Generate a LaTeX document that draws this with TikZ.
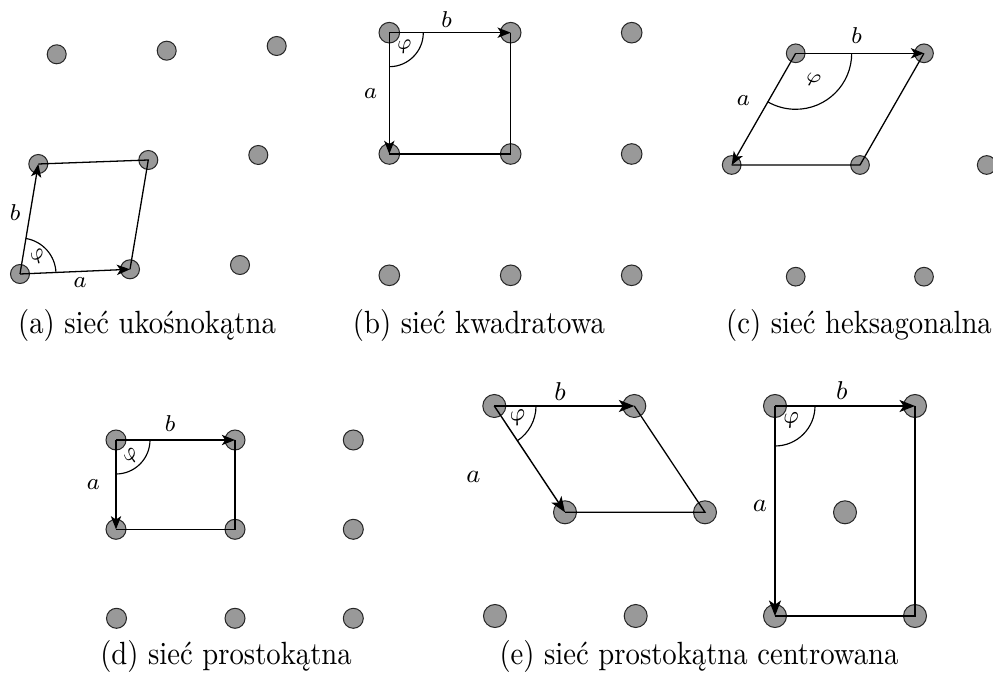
\documentclass[tikz,border=0pt]{standalone}
\usepackage{fontspec}
\usetikzlibrary{arrows.meta}
\definecolor{dotgray}{RGB}{153,153,153}
\tikzset{
  latt/.style={circle, draw=black!85, line width=0.35pt, fill=dotgray, inner sep=0pt, minimum size={#1*0.3486pt}},
  vec/.style={line width=0.45pt, -{Stealth[length=4.6pt,width=3.6pt,inset=1.2pt]}},
  bigvec/.style={line width=0.5pt, -{Stealth[length=5.4pt,width=4.2pt,inset=1.4pt]}},
  cellline/.style={line width=0.45pt},
  anglearc/.style={line width=0.4pt},
  lbl/.style={inner sep=0pt, font=\fontsize{8.5}{10}\selectfont},
  elbl/.style={inner sep=0pt, font=\fontsize{9.5}{11}\selectfont},
  philbl/.style={inner sep=0pt, font=\fontsize{7}{8}\selectfont},
  capt/.style={inner sep=0pt, yscale=1.12, font=\fontsize{10}{12}\selectfont}
}
\begin{document}
\begin{tikzpicture}[x=0.3486pt, y=-0.3486pt]
\useasboundingbox (0,0) rectangle (993,677);

% ---------- (a) ----------
\foreach \n/\x/\y in {a00/20/274, a10/130/269.3, a20/240/265,
                      a01/38.3/164, a11/148.3/160, a21/258.3/155,
                      a02/56.7/54.3, a12/166.7/50.7, a22/276.7/46}
  \node[latt=19] (\n) at (\x,\y) {};
\draw[vec] (a00.center) -- (a10.center);
\draw[vec] (a00.center) -- (a01.center);
\draw[cellline] (a01.center) -- (a11.center) -- (a10.center);
\draw[anglearc] (a00.center) ++(-2.4:36) arc[start angle=-2.4, end angle=-80.6, radius=36];
\node[lbl] (la) at (80,283) {$a$};
\node[lbl] (lb) at (15,213) {$b$};
\node[philbl, rotate=30] (lp) at (38.3,257) {$\varphi$};
\node[capt] (capa) at (147,325) {(a) sieć ukośnokątna};

% ---------- (b) ----------
\foreach \n/\x/\y in {b00/389.3/32.7, b10/510.7/32.7, b20/631.7/32.7,
                      b01/389.3/154, b11/510.7/154, b21/631.7/154,
                      b02/389.3/275.3, b12/510.7/275.3, b22/631.7/275.3}
  \node[latt=20.6] (\n) at (\x,\y) {};
\draw[vec] (b00.center) -- (b10.center);
\draw[vec] (b00.center) -- (b01.center);
\draw[cellline] (b10.center) -- (b11.center) -- (b01.center);
\draw[anglearc] (b00.center) ++(0:34) arc[start angle=0, end angle=90, radius=34];
\node[lbl] (lbb) at (446.7,19.3) {$b$};
\node[lbl] (lba) at (370.7,93.3) {$a$};
\node[philbl, rotate=10] (lbp) at (405,46.7) {$\varphi$};
\node[capt] (capb) at (479,325) {(b) sieć kwadratowa};

% ---------- (c) ----------
\foreach \n/\x/\y in {c00/795.7/53.3, c10/924/53.3,
                      c01/731.7/165, c11/860/165, c21/986.7/165,
                      c02/795.7/276.7, c12/924/276.7}
  \node[latt=18.7] (\n) at (\x,\y) {};
\draw[vec] (c00.center) -- (c10.center);
\draw[vec] (c00.center) -- (c01.center);
\draw[cellline] (c10.center) -- (c11.center) -- (c01.center);
\draw[anglearc] (c00.center) ++(0:56) arc[start angle=0, end angle=120, radius=56];
\node[lbl] (lcb) at (856.7,36) {$b$};
\node[lbl] (lca) at (743.3,100.7) {$a$};
\node[philbl, rotate=-15] (lcp) at (813.3,80) {$\varphi$};
\node[capt] (capc) at (859,325) {(c) sieć heksagonalna};

% ---------- (d) ----------
\foreach \n/\x/\y in {d00/116/440, d10/235/440, d20/353.3/440,
                      d01/116/529.3, d11/235/529.3, d21/353.3/529.3,
                      d02/116.5/618.3, d12/235/618.3, d22/353.3/618.3}
  \node[latt=20] (\n) at (\x,\y) {};
\draw[vec] (d00.center) -- (d10.center);
\draw[vec] (d00.center) -- (d01.center);
\draw[cellline] (d10.center) -- (d11.center) -- (d01.center);
\draw[anglearc] (d00.center) ++(0:34) arc[start angle=0, end angle=90, radius=34];
\node[lbl] (ldb) at (170,424) {$b$};
\node[lbl] (lda) at (93.3,485) {$a$};
\node[philbl, rotate=50] (ldp) at (131.7,456) {$\varphi$};
\node[capt] (capd) at (226,656) {(d) sieć prostokątna};

% ---------- (e) left ----------
\foreach \n/\x/\y in {e00/494.3/406, e10/634.3/406,
                      e01/565/512.3, e11/705/512.3,
                      e02/495/616, e12/635.7/616}
  \node[latt=23] (\n) at (\x,\y) {};
\draw[bigvec] (e00.center) -- (e10.center);
\draw[bigvec] (e00.center) -- (e01.center);
\draw[cellline] (e10.center) -- (e11.center) -- (e01.center);
\draw[anglearc] (e00.center) ++(0:41.7) arc[start angle=0, end angle=56.4, radius=41.7];
\node[elbl] (leb) at (560,391.7) {$b$};
\node[elbl] (lea) at (473.3,476.7) {$a$};
\node[philbl, font=\fontsize{8}{9}\selectfont, rotate=15] (lep) at (518.3,418.3) {$\varphi$};

% ---------- (e) right ----------
\foreach \n/\x/\y in {f00/775/406, f10/915/406,
                      f11c/845/512.3,
                      f01/775/616, f11/915/616}
  \node[latt=23] (\n) at (\x,\y) {};
\draw[bigvec] (f00.center) -- (f10.center);
\draw[bigvec] (f00.center) -- (f01.center);
\draw[cellline] (f10.center) -- (f11.center) -- (f01.center);
\draw[anglearc] (f00.center) ++(0:40) arc[start angle=0, end angle=90, radius=40];
\node[elbl] (lfb) at (841.7,390.7) {$b$};
\node[elbl] (lfa) at (760,506) {$a$};
\node[philbl, font=\fontsize{8}{9}\selectfont, rotate=10] (lfp) at (791.7,420) {$\varphi$};
\node[capt] (cape) at (699,656) {(e) sieć prostokątna centrowana};
\end{tikzpicture}
\end{document}
